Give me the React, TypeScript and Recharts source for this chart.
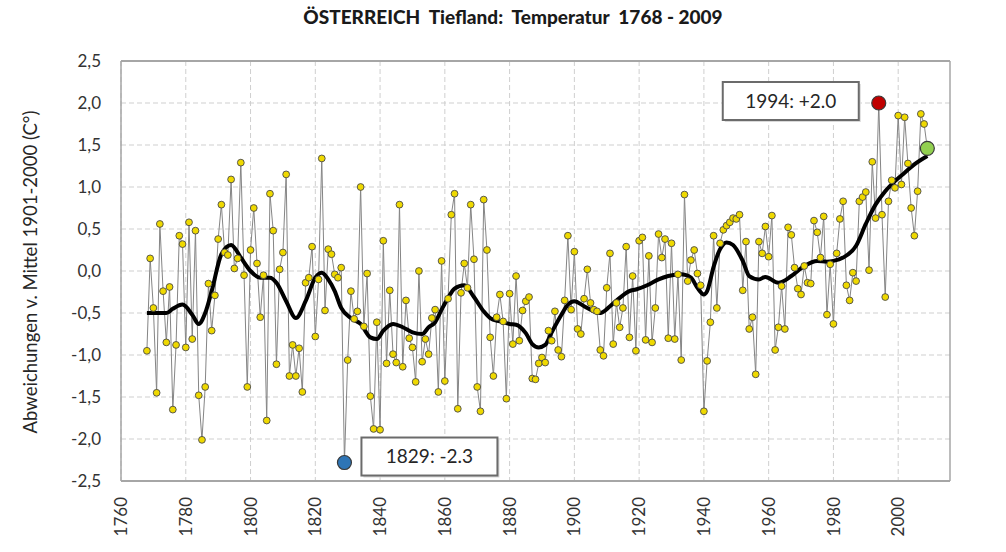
import React from "react";
import {
  LineChart,
  Line,
  XAxis,
  YAxis,
  CartesianGrid,
  ReferenceDot,
  ReferenceLine,
} from "recharts";

// Jahresmittel-Abweichungen 1768-2009 (one value per year)
const firstYear = 1768;
const temps = [
  -0.95, 0.15,
  -0.44, -1.45, 0.56, -0.24, -0.85, -0.19, -1.65, -0.88, 0.42, 0.32, // 1770s
  -0.91, 0.58, -0.81, 0.48, -1.48, -2.01, -1.38, -0.15, -0.71, -0.29, // 1780s
  0.38, 0.79, 0.22, 0.19, 1.09, 0.03, 0.15, 1.29, -0.05, -1.38, // 1790s
  0.25, 0.75, 0.09, -0.55, -0.05, -1.78, 0.92, 0.48, -1.11, 0.02, // 1800s
  0.22, 1.15, -1.25, -0.88, -1.25, -0.92, -1.44, -0.14, -0.08, 0.29, // 1810s
  -0.78, -0.1, 1.34, -0.47, 0.26, 0.2, -0.04, -0.08, 0.04, -2.28, // 1820s
  -1.06, -0.24, -0.57, -0.48, 1.0, -0.66, -0.03, -1.49, -1.88, -0.61, // 1830s
  -1.89, 0.36, -1.1, -0.23, -0.99, -1.09, 0.79, -1.14, -0.35, -0.8, // 1840s
  -0.91, -1.32, 0.0, -1.08, -0.81, -0.99, -0.56, -0.46, -1.44, 0.12, // 1850s
  -1.31, -0.33, 0.67, 0.92, -1.64, -0.26, 0.09, -0.2, 0.79, 0.14, // 1860s
  -1.38, -1.67, 0.85, 0.25, -0.79, -1.25, -0.55, -0.28, -0.6, -1.52, // 1870s
  -0.27, -0.87, -0.06, -0.83, -0.47, -0.36, -0.31, -1.28, -1.29, -1.1, // 1880s
  -1.03, -1.09, -0.71, -0.83, -0.48, -0.94, -1.02, -0.35, 0.42, -0.46, // 1890s
  0.23, -0.69, -0.75, -0.33, 0.02, -0.38, -0.46, -0.48, -0.94, -1.01, // 1900s
  -0.2, 0.21, -0.87, -0.38, -0.67, -0.44, 0.29, -0.79, -0.06, -0.95, // 1910s
  0.36, 0.4, -0.82, 0.18, -0.85, -0.44, 0.44, 0.16, 0.38, -0.8, // 1920s
  0.33, -0.81, -0.04, -1.06, 0.91, -0.12, 0.13, 0.25, -0.03, -0.17, // 1930s
  -1.67, -1.07, -0.61, 0.42, -0.44, 0.33, 0.49, 0.54, 0.58, 0.63, // 1940s
  0.62, 0.67, -0.23, 0.35, -0.69, -0.55, -1.23, 0.35, 0.21, 0.53, // 1950s
  0.17, 0.66, -0.94, -0.67, -0.18, -0.69, 0.52, 0.43, 0.04, -0.21, // 1960s
  -0.28, 0.06, -0.14, -0.15, 0.6, 0.46, 0.16, 0.65, -0.52, 0.08, // 1970s
  -0.63, 0.21, 0.62, 0.83, -0.17, -0.35, -0.02, -0.12, 0.83, 0.88, // 1980s
  0.94, 0.01, 1.3, 0.63, 2.0, 0.67, -0.31, 0.83, 1.08, 0.99, // 1990s
  1.85, 1.03, 1.83, 1.28, 0.75, 0.42, 0.95, 1.87, 1.75, 1.46, // 2000s
];

const smoothYears = [
  1768, 1771, 1774, 1776, 1779, 1782, 1784, 1786, 1788, 1791, 1794, 1797,
  1800, 1803, 1806, 1808, 1811, 1814, 1817, 1820, 1822, 1824, 1826, 1828,
  1831, 1834, 1837, 1839, 1841, 1844, 1847, 1850, 1853, 1855, 1857, 1859,
  1861, 1863, 1866, 1869, 1872, 1874, 1877, 1880, 1882, 1885, 1887, 1889,
  1891, 1893, 1896, 1898, 1900, 1903, 1906, 1908, 1911, 1914, 1917, 1919,
  1923, 1926, 1929, 1933, 1936, 1938, 1940, 1941, 1943, 1945, 1947, 1949,
  1952, 1954, 1957, 1959, 1963, 1967, 1971, 1975, 1978, 1980, 1983, 1987,
  1990, 1993, 1996, 1999, 2002, 2005, 2009,
];
const smoothValues = [
  -0.5, -0.5, -0.5, -0.45, -0.4, -0.52, -0.63, -0.5, -0.24, 0.2, 0.31, 0.16,
  0.0, -0.08, -0.08, -0.14, -0.36, -0.56, -0.36, -0.08, -0.02, -0.1, -0.24, -0.44,
  -0.56, -0.63, -0.79, -0.81, -0.71, -0.63, -0.67, -0.73, -0.75, -0.67, -0.61, -0.46,
  -0.32, -0.21, -0.17, -0.31, -0.48, -0.56, -0.6, -0.63, -0.64, -0.74, -0.87, -0.91,
  -0.88, -0.73, -0.52, -0.4, -0.36, -0.42, -0.48, -0.5, -0.42, -0.32, -0.24, -0.22,
  -0.16, -0.1, -0.06, -0.04, -0.08, -0.2, -0.28, -0.24, 0.05, 0.26, 0.34, 0.31,
  0.12, -0.06, -0.1, -0.07, -0.14, -0.06, 0.06, 0.12, 0.11, 0.12, 0.16, 0.3,
  0.56, 0.79, 0.95, 1.07, 1.17, 1.27, 1.37,
];

const xTicks = [1760, 1780, 1800, 1820, 1840, 1860, 1880, 1900, 1920, 1940, 1960, 1980, 2000];
const yTicks = [-2.5, -2, -1.5, -1, -0.5, 0, 0.5, 1, 1.5, 2, 2.5];

const highlights = [
  { year: 1829, color: "#2e75b6", label: "1829: -2.3", side: "right" },
  { year: 1994, color: "#c00000", label: "1994: +2.0", side: "left" },
  { year: 2009, color: "#92d050", label: "", side: "" },
];

const smoothMap = new Map(smoothYears.map((y, i) => [y, smoothValues[i]]));
const data = temps.map((t, i) => ({
  year: firstYear + i,
  temp: t,
  smooth: smoothMap.has(firstYear + i) ? smoothMap.get(firstYear + i) : null,
}));

const FONT = "Lato, 'Open Sans', sans-serif";
const fmt = (v: number) => v.toFixed(1).replace(".", ",");

const XTick = (props: any) => {
  const { x, y, payload } = props;
  const ty = y + 8;
  return (
    <text
      x={x}
      y={ty}
      transform={`rotate(-90, ${x}, ${ty})`}
      textAnchor="end"
      dy="0.36em"
      fontSize={17}
      fill="#333"
      fontFamily={FONT}
    >
      {payload.value}
    </text>
  );
};

const renderPoint = (props: any) => {
  const { cx, cy, payload, index } = props;
  if (highlights.some((h) => h.year === payload.year)) return <g key={index} />;
  return (
    <circle
      key={index}
      cx={cx}
      cy={cy}
      r={3.4}
      fill="#efd900"
      stroke="#4a4a4a"
      strokeWidth={0.9}
    />
  );
};

const HighlightShape = (h: (typeof highlights)[number]) => (props: any) => {
  const { cx, cy } = props;
  const w = 136;
  const bh = 38;
  const bx = h.side === "left" ? cx - 156 : cx + 17;
  const by = h.side === "left" ? cy - 21 : cy - 25;
  return (
    <g>
      {h.label && (
        <g>
          <rect x={bx + 2} y={by + 2} width={w} height={bh} fill="#d9d9d9" />
          <rect x={bx} y={by} width={w} height={bh} fill="#fff" stroke="#6b6b6b" strokeWidth={2} />
          <text
            x={bx + w / 2}
            y={by + bh / 2}
            dy="0.35em"
            textAnchor="middle"
            fontSize={19}
            fill="#262626"
            fontFamily={FONT}
          >
            {h.label}
          </text>
        </g>
      )}
      <circle cx={cx} cy={cy} r={7} fill={h.color} stroke="#3a3a3a" strokeWidth={1.2} />
    </g>
  );
};

export default function App() {
  return (
    <div
      style={{
        position: "absolute",
        left: 0,
        top: 0,
        width: 1006,
        height: 552,
        background: "#fff",
        fontFamily: FONT,
      }}
    >
      <div
        style={{
          position: "absolute",
          top: 5,
          left: 0,
          width: 1026,
          textAlign: "center",
          fontWeight: 900,
          fontSize: 19,
          color: "#1a1a1a",
          whiteSpace: "pre",
        }}
      >
        {"ÖSTERREICH  Tiefland:  Temperatur  1768 - 2009"}
      </div>
      <div
        style={{
          position: "absolute",
          left: 30,
          top: 272,
          transform: "translate(-50%, -50%) rotate(-90deg)",
          whiteSpace: "nowrap",
          fontSize: 18.5,
          color: "#262626",
        }}
      >
        Abweichungen v. Mittel 1901-2000 (C°)
      </div>
      <LineChart
        width={1006}
        height={552}
        data={data}
        margin={{ top: 61, right: 0, bottom: 0, left: 0 }}
      >
        <CartesianGrid
          yAxisId="left"
          stroke="#cfcfcf"
          strokeDasharray="5 3"
          horizontalValues={yTicks}
          verticalValues={xTicks}
        />
        <XAxis
          dataKey="year"
          type="number"
          domain={[1760, 2016]}
          ticks={xTicks}
          interval={0}
          height={71}
          tickLine={false}
          axisLine={{ stroke: "#a6a6a6", strokeWidth: 2 }}
          tick={<XTick />}
        />
        <YAxis
          yAxisId="left"
          domain={[-2.5, 2.5]}
          ticks={yTicks}
          interval={0}
          width={121}
          tickLine={false}
          tickMargin={14}
          axisLine={{ stroke: "#a6a6a6", strokeWidth: 1.5 }}
          tickFormatter={fmt}
          tick={{ fontSize: 17, fill: "#333", fontFamily: FONT }}
        />
        <YAxis
          yAxisId="right"
          orientation="right"
          domain={[-2.5, 2.5]}
          ticks={yTicks}
          interval={0}
          width={56}
          tickLine={false}
          tickMargin={6}
          axisLine={{ stroke: "#a6a6a6", strokeWidth: 1.5 }}
          tickFormatter={fmt}
          tick={{ fontSize: 17, fill: "#333", fontFamily: FONT }}
        />
        <ReferenceLine yAxisId="left" y={2.5} stroke="#a6a6a6" strokeWidth={2} />
        <Line
          yAxisId="left"
          dataKey="temp"
          type="linear"
          stroke="#858585"
          strokeWidth={1}
          dot={renderPoint}
          activeDot={false}
          isAnimationActive={false}
        />
        <Line
          yAxisId="left"
          dataKey="smooth"
          type="monotone"
          connectNulls
          stroke="#000"
          strokeWidth={4}
          dot={false}
          activeDot={false}
          isAnimationActive={false}
        />
        {highlights.map((h) => (
          <ReferenceDot
            key={h.year}
            yAxisId="left"
            x={h.year}
            y={temps[h.year - firstYear]}
            r={7}
            shape={HighlightShape(h)}
          />
        ))}
      </LineChart>
    </div>
  );
}
